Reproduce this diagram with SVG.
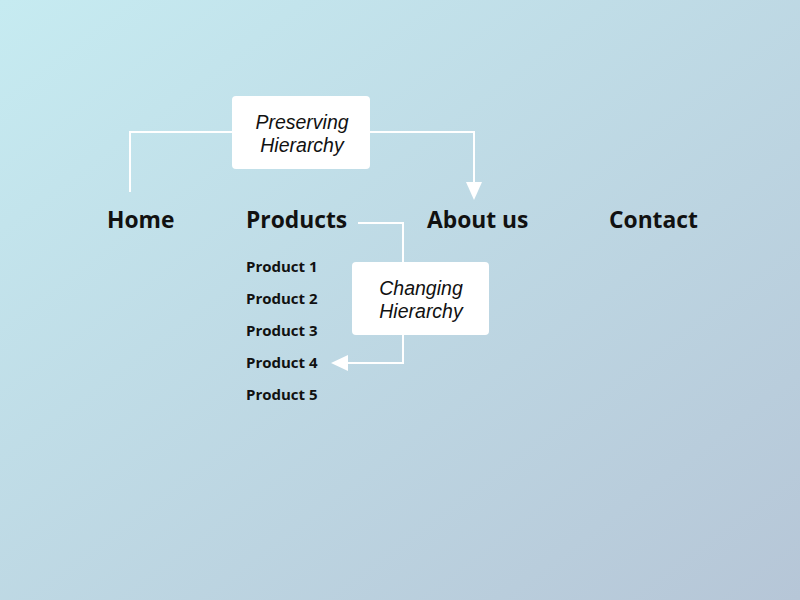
<svg xmlns="http://www.w3.org/2000/svg" width="800" height="600" viewBox="0 0 800 600">
<style>
.nav{font-family:"Open Sans","Noto Sans",sans-serif;font-weight:700;font-size:22.8px;fill:#111}
.sub{font-family:"Open Sans","Noto Sans",sans-serif;font-weight:700;font-size:15px;fill:#111}
.lbl{font-family:"Liberation Sans",Arial,sans-serif;font-style:italic;font-size:19.5px;fill:#111;text-anchor:middle}
.box{fill:#fff}
.ln{fill:none;stroke:#fff;stroke-width:2}
</style>
<defs>
<linearGradient id="bg" x1="0" y1="0" x2="1" y2="1">
<stop offset="0" stop-color="#c6ebf1"/>
<stop offset="1" stop-color="#b6c6d7"/>
</linearGradient>
</defs>
<rect width="800" height="600" fill="url(#bg)"/>
<g id="connectors">
<path class="ln" d="M130 192 V132 H232"/>
<path class="ln" d="M370 132 H474 V184"/>
<polygon points="466,182 482,182 474,200" fill="#fff"/>
<path class="ln" d="M358 223 H403 V262"/>
<path class="ln" d="M403 335 V363 H346"/>
<polygon points="348,355 348,371 331,363" fill="#fff"/>
</g>
<g id="home"><text class="nav" x="107" y="228">Home</text></g>
<g id="products"><text class="nav" x="246" y="228">Products</text></g>
<g id="about"><text class="nav" x="427" y="228">About us</text></g>
<g id="contact"><text class="nav" x="609" y="228">Contact</text></g>
<g id="product1"><text class="sub" x="246" y="272">Product 1</text></g>
<g id="product2"><text class="sub" x="246" y="304">Product 2</text></g>
<g id="product3"><text class="sub" x="246" y="336">Product 3</text></g>
<g id="product4"><text class="sub" x="246" y="368">Product 4</text></g>
<g id="product5"><text class="sub" x="246" y="400">Product 5</text></g>
<g id="preserving">
<rect class="box" x="232" y="96" width="138" height="73" rx="4"/>
<text class="lbl" x="302" y="129">Preserving</text>
<text class="lbl" x="302" y="152">Hierarchy</text>
</g>
<g id="changing">
<rect class="box" x="352" y="262" width="137" height="73" rx="4"/>
<text class="lbl" x="421" y="295">Changing</text>
<text class="lbl" x="421" y="318">Hierarchy</text>
</g>
</svg>
